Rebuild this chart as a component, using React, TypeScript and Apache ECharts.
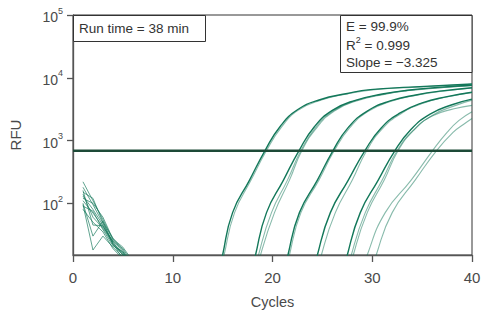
import React, { useEffect, useRef } from "react";
import * as echarts from "echarts";

// ---- axis settings ----
const xMin = 0;
const xMax = 40;
const xStep = 10;
const rfuMin = 15;
const rfuMax = 100000;
const yExponents = [2, 3, 4, 5];

// ---- threshold ----
const thresholdCycles = [0, 40];
const thresholdRfu = 690;

// ---- amplification curves: [cycle, RFU] ----
const ampG1a = [[14.7, 8], [15.0, 15], [16.0, 71], [17.7, 234], [19.25, 692], [20.75, 1660], [22.5, 3090], [24.75, 4470], [27.5, 5620], [29.8, 6460], [33.8, 7080], [40, 7940]];
const ampG1b = [[14.85, 8], [15.15, 15], [16.2, 71], [17.85, 234], [19.4, 692], [20.9, 1640], [22.6, 3050], [24.9, 4420], [27.6, 5580], [30, 6420], [34, 7040], [40, 7900]];
const ampG2a = [[18.0, 8], [18.3, 15], [19.4, 71], [21.1, 234], [22.66, 692], [24.2, 1660], [26.0, 3020], [28.3, 4370], [31.0, 5500], [33.5, 6310], [37.0, 7080], [40, 7590]];
const ampG2b = [[18.3, 8], [18.6, 15], [19.9, 71], [21.5, 234], [22.85, 692], [24.35, 1630], [26.1, 2990], [28.4, 4330], [31.1, 5460], [33.6, 6280], [37.1, 7040], [40, 7560]];
const ampG2c = [[18.5, 8], [18.8, 15], [20.2, 71], [21.7, 234], [22.95, 692], [24.45, 1610], [26.2, 2960], [28.5, 4300], [31.2, 5430], [33.7, 6250], [37.2, 7010], [40, 7530]];
const ampG3a = [[21.25, 8], [21.55, 15], [22.7, 71], [24.5, 234], [26.07, 692], [27.6, 1620], [29.5, 2950], [31.8, 4270], [34.5, 5370], [37.0, 6170], [40, 6920]];
const ampG3b = [[21.4, 8], [21.7, 15], [22.85, 71], [24.65, 234], [26.2, 692], [27.75, 1600], [29.6, 2920], [31.9, 4230], [34.6, 5330], [37.1, 6130], [40, 6880]];
const ampG4a = [[24.2, 8], [24.5, 15], [25.8, 71], [27.6, 234], [29.27, 692], [30.9, 1585], [32.8, 2750], [35.0, 3980], [37.5, 5010], [40, 5890]];
const ampG4b = [[24.6, 8], [24.9, 15], [26.3, 71], [28.0, 234], [29.45, 692], [31.05, 1560], [32.95, 2720], [35.1, 3940], [37.6, 4970], [40, 5850]];
const ampG5a = [[27.2, 8], [27.5, 15], [28.8, 71], [30.6, 234], [32.28, 692], [33.9, 1510], [35.8, 2630], [38.0, 3720], [40, 4570]];
const ampG5b = [[27.6, 8], [27.9, 15], [29.3, 71], [31.0, 234], [32.5, 692], [34.1, 1450], [36.0, 2450], [38.2, 3200], [40, 3630]];
const ampG5c = [[27.8, 8], [28.1, 15], [29.5, 71], [31.2, 234], [32.6, 692], [34.2, 1480], [36.1, 2560], [38.3, 3600], [40, 4400]];
const ampG6a = [[29.1, 8], [29.5, 15], [31.3, 71], [33.9, 234], [36.05, 692], [37.5, 1350], [38.7, 2090], [40, 2880]];
const ampG6b = [[30.0, 8], [30.4, 15], [32.0, 71], [34.3, 234], [36.45, 692], [38.1, 1350], [39.1, 1780], [40, 2240]];

// ---- early-cycle noise: RFU at cycles 1..6 ----
const noiseCycles = [1, 2, 3, 4, 5, 6];
const noise1 = [220, 110, 55, 26, 17, 9];
const noise2 = [180, 95, 48, 24, 15, 8];
const noise3 = [150, 120, 50, 28, 18, 10];
const noise4 = [130, 80, 45, 22, 16, 9];
const noise5 = [110, 70, 42, 25, 19, 11];
const noise6 = [95, 18, 30, 20, 14, 8];
const noise7 = [140, 60, 40, 23, 13, 7];
const noise8 = [90, 75, 38, 21, 17, 10];
const noise9 = [120, 100, 60, 27, 20, 12];
const noise10 = [80, 50, 35, 19, 13, 8];
const noise11 = [160, 45, 44, 24, 16, 9];
const noise12 = [100, 30, 52, 22, 15, 9];

const FONT = "'Liberation Sans', Arial, sans-serif";
const TEXT = "#4a4a4a";
const GREEN = "#13785a";
const GREEN_FAINT = "rgba(19,120,90,0.5)";

const toLog = (pts: number[][]) => pts.map(([c, v]) => [c, Math.log10(v)]);

export default function App() {
  const ref = useRef<HTMLDivElement>(null);

  useEffect(() => {
    const chart = echarts.init(ref.current!, null, { renderer: "svg" });

    const ampCurves: { data: number[][]; faint: boolean }[] = [
      { data: ampG1a, faint: false },
      { data: ampG1b, faint: true },
      { data: ampG2a, faint: false },
      { data: ampG2b, faint: true },
      { data: ampG2c, faint: true },
      { data: ampG3a, faint: false },
      { data: ampG3b, faint: true },
      { data: ampG4a, faint: false },
      { data: ampG4b, faint: true },
      { data: ampG5a, faint: false },
      { data: ampG5b, faint: true },
      { data: ampG5c, faint: true },
      { data: ampG6a, faint: true },
      { data: ampG6b, faint: true },
    ];
    const noiseCurves = [noise1, noise2, noise3, noise4, noise5, noise6, noise7, noise8, noise9, noise10, noise11, noise12];

    const series: any[] = [];
    noiseCurves.forEach((vals) => {
      series.push({
        type: "line",
        data: noiseCycles.map((c, i) => [c, Math.log10(vals[i])]),
        showSymbol: false,
        silent: true,
        lineStyle: { color: GREEN, width: 0.9, opacity: 0.75 },
      });
    });
    ampCurves.forEach((cv) => {
      series.push({
        type: "line",
        data: toLog(cv.data),
        showSymbol: false,
        smooth: 0.5,
        silent: true,
        lineStyle: { color: cv.faint ? GREEN_FAINT : GREEN, width: cv.faint ? 1.1 : 1.4 },
      });
    });
    series.push({
      type: "line",
      data: thresholdCycles.map((c) => [c, Math.log10(thresholdRfu)]),
      showSymbol: false,
      silent: true,
      z: 5,
      lineStyle: { color: "#1d4a37", width: 2.5 },
    });

    const option: any = {
      animation: false,
      backgroundColor: "#fff",
      grid: {
        left: 73,
        top: 15,
        right: 9,
        bottom: 55,
        outerBoundsMode: "none",
        containLabel: false,
        show: true,
        borderColor: "#333",
        borderWidth: 1,
        backgroundColor: "#fff",
      },
      xAxis: {
        type: "value",
        min: xMin,
        max: xMax,
        interval: xStep,
        name: "Cycles",
        nameLocation: "middle",
        nameGap: 39,
        nameTextStyle: { fontFamily: FONT, fontSize: 14.5, color: TEXT },
        axisLine: { show: true, lineStyle: { color: "#555", width: 1.3 } },
        axisTick: { show: true, length: 7, lineStyle: { color: "#555", width: 1.3 } },
        axisLabel: { fontFamily: FONT, fontSize: 15, color: TEXT, margin: 15 },
        splitLine: { show: false },
      },
      yAxis: {
        type: "value",
        min: Math.log10(rfuMin),
        max: Math.log10(rfuMax),
        name: "RFU",
        nameLocation: "middle",
        nameGap: 50,
        nameTextStyle: { fontFamily: FONT, fontSize: 15, color: TEXT },
        axisLine: { show: true, lineStyle: { color: "#555", width: 1.3 } },
        axisTick: { show: true, length: 6, customValues: yExponents, lineStyle: { color: "#555", width: 1.3 } },
        axisLabel: {
          customValues: yExponents,
          margin: 10,
          formatter: (v: number) => `{b|10}{s|${Math.round(v)}}`,
          rich: {
            b: { fontFamily: FONT, fontSize: 14, color: TEXT, lineHeight: 18, verticalAlign: "bottom" },
            s: { fontFamily: FONT, fontSize: 9, color: TEXT, lineHeight: 10, verticalAlign: "top" },
          },
        },
        splitLine: { show: false },
      },
      graphic: [
        {
          type: "rect",
          shape: { x: 73.5, y: 15.5, width: 132, height: 26 },
          style: { fill: "#fff", stroke: "#333", lineWidth: 1 },
          z: 10,
        },
        {
          type: "text",
          x: 79,
          y: 28,
          z: 11,
          style: { text: "Run time = 38 min", fontFamily: FONT, fontSize: 13.5, fill: "#333", verticalAlign: "middle" },
        },
        {
          type: "rect",
          shape: { x: 340.5, y: 15.5, width: 131.5, height: 57 },
          style: { fill: "#fff", stroke: "#333", lineWidth: 1 },
          z: 10,
        },
        {
          type: "text",
          x: 346,
          y: 26,
          z: 11,
          style: { text: "E = 99.9%", fontFamily: FONT, fontSize: 13.5, fill: "#333", verticalAlign: "middle" },
        },
        {
          type: "text",
          x: 346,
          y: 44,
          z: 11,
          style: {
            text: "{a|R}{s|2}{a| = 0.999}",
            verticalAlign: "middle",
            rich: {
              a: { fontFamily: FONT, fontSize: 13.5, fill: "#333", lineHeight: 17, verticalAlign: "bottom" },
              s: { fontFamily: FONT, fontSize: 9, fill: "#333", lineHeight: 10, verticalAlign: "top" },
            },
          },
        },
        {
          type: "text",
          x: 346,
          y: 62,
          z: 11,
          style: { text: "Slope = \u22123.325", fontFamily: FONT, fontSize: 13.5, fill: "#333", verticalAlign: "middle" },
        },
      ],
      series,
    };

    chart.setOption(option);
    return () => chart.dispose();
  }, []);

  return (
    <div
      ref={ref}
      style={{ position: "fixed", left: 0, top: 0, width: 481, height: 310, background: "#fff" }}
    />
  );
}
